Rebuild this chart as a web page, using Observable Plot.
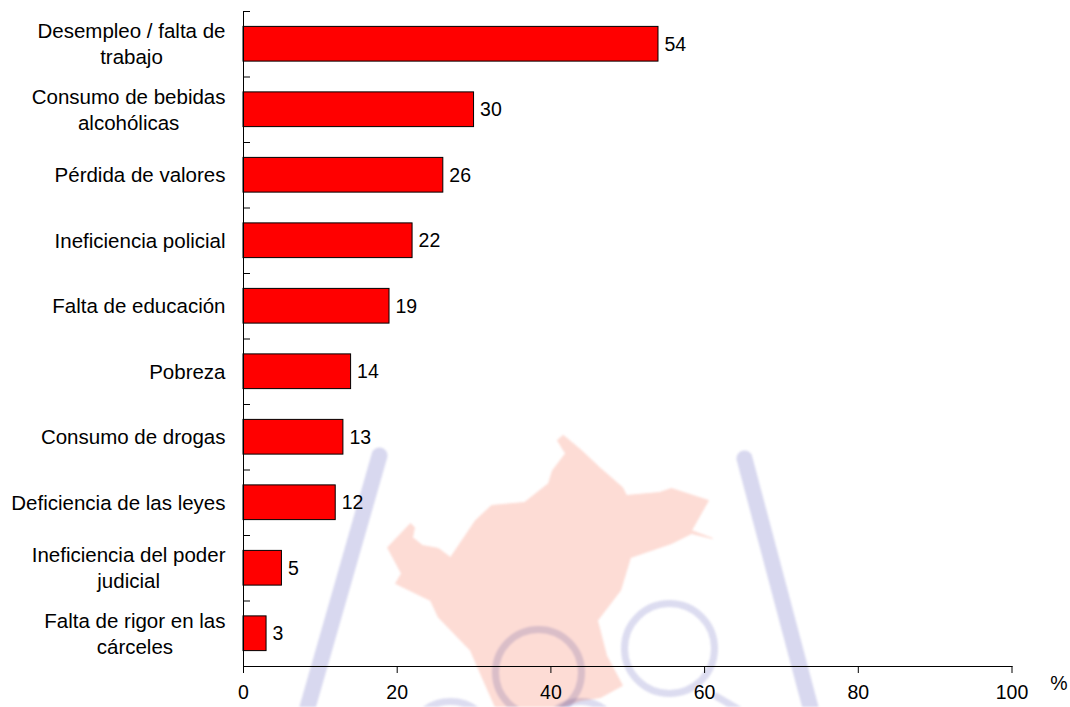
<!DOCTYPE html>
<html><head><meta charset="utf-8">
<script src="https://cdn.jsdelivr.net/npm/d3@7"></script>
<script src="https://cdn.jsdelivr.net/npm/@observablehq/plot@0.6"></script>
<style>
html,body{margin:0;padding:0;background:#fff}
#wrap{position:relative;width:1070px;height:707px;overflow:hidden}
#wrap svg{position:absolute;left:0;top:0;background:transparent}
</style></head><body><div id="wrap"></div>
<script>
const categories = ["Desempleo / falta de\ntrabajo","Consumo de bebidas\nalcohólicas","Pérdida de valores","Ineficiencia policial","Falta de educación","Pobreza","Consumo de drogas","Deficiencia de las leyes","Ineficiencia del poder\njudicial","Falta de rigor en las\ncárceles"];
const values = [54,30,26,22,19,14,13,12,5,3];
const xTicks = [0,20,40,60,80,100];
const table = categories.map((c,i)=>({c,v:values[i]}));

// background watermark (picture coordinates)
const wmMap = [[563,435],[581,450],[599,467],[622,487],[626,495],[659,492],[671,488],[708,500],[691,530],[712,538],[691,533],[671,543],[630,557],[620,590],[597,620],[606,655],[622,685],[600,697],[580,700],[560,707],[495,707],[483,680],[470,650],[438,617],[430,600],[395,583],[401,573],[387,547],[410,523],[414,527],[412,537],[422,545],[438,548],[450,557],[475,520],[491,505],[524,502],[548,483],[552,470],[565,453],[557,440]];
const wmBands = [[[379,455],[307,707]],[[744,458],[810,707]]];
const wmStreaks = [[[716,696],[740,710]]];
const wmRings = [[538,672,43],[669,648,45],[450,745,44],[580,742,41]];

const fs = 20.5;
const numFs = 19.5;
const fam = '"Liberation Sans", Arial, sans-serif';
const ctx = document.createElement("canvas").getContext("2d");
ctx.font = `${fs}px ${fam}`;
const blockWidth = s => Math.max(...s.split("\n").map(l=>ctx.measureText(l).width));

const wm = Plot.plot({
  width:1070,height:707,margin:0,
  x:{type:"identity",axis:null},y:{type:"identity",axis:null},
  style:{background:"transparent",filter:"blur(0.8px)"},
  marks:[
    Plot.line(wmMap,{x:d=>d[0],y:d=>d[1],curve:"linear-closed",fill:"#fddcd5",stroke:"#fddcd5",strokeWidth:1}),
    ...wmBands.map(b=>Plot.line(b,{x:d=>d[0],y:d=>d[1],stroke:"#d8d8ef",strokeWidth:16,strokeLinecap:"round",mixBlendMode:"multiply"})),
    ...wmStreaks.map(b=>Plot.line(b,{x:d=>d[0],y:d=>d[1],stroke:"#dcdcf0",strokeWidth:7,mixBlendMode:"multiply"})),
    ...wmRings.map(d=>Plot.dot([d],{x:d=>d[0],y:d=>d[1],r:d[2],stroke:"#dcdcf0",strokeWidth:7,fill:"none",mixBlendMode:"multiply"}))
  ]
});

const step = 65.5;
const chart = Plot.plot({
  width:1070,height:707,
  marginLeft:243,marginRight:58.5,marginTop:11,marginBottom:41,
  style:{fontFamily:fam,fontSize:fs+"px",color:"#000",background:"transparent"},
  x:{domain:[0,100],label:null},
  y:{domain:categories,paddingInner:0.47,paddingOuter:0.235,round:false,axis:null,label:null},
  marks:[
    Plot.barX(table,{x:"v",y:"c",fill:"#ff0000",stroke:"#000",strokeWidth:1}),
    Plot.frame({anchor:"left",stroke:"#000"}),
    Plot.frame({anchor:"bottom",stroke:"#000"}),
    Plot.ruleY(categories,{y:d=>d,x1:0,x2:0,insetRight:-7,dy:-step/2,stroke:"#000"}),
    Plot.axisX({ticks:xTicks,tickSize:7,tickPadding:12,tickFormat:d=>String(d),label:null,fontSize:numFs,stroke:"#000"}),
    Plot.text(table,{x:"v",y:"c",text:d=>String(d.v),textAnchor:"start",dx:6,fontSize:numFs,fill:"#000"}),
    ...categories.map(c=>Plot.text([c],{x:()=>0,y:d=>d,text:d=>d,textAnchor:"middle",dx:-(18+blockWidth(c)/2),dy:-1.5,lineHeight:26/fs,fontSize:fs,fill:"#000"})),
    Plot.text(["%"],{x:()=>100,text:d=>d,frameAnchor:"bottom",dx:47,dy:23,fontSize:numFs,fill:"#000"})
  ]
});
document.getElementById("wrap").append(wm,chart);
</script></body></html>
